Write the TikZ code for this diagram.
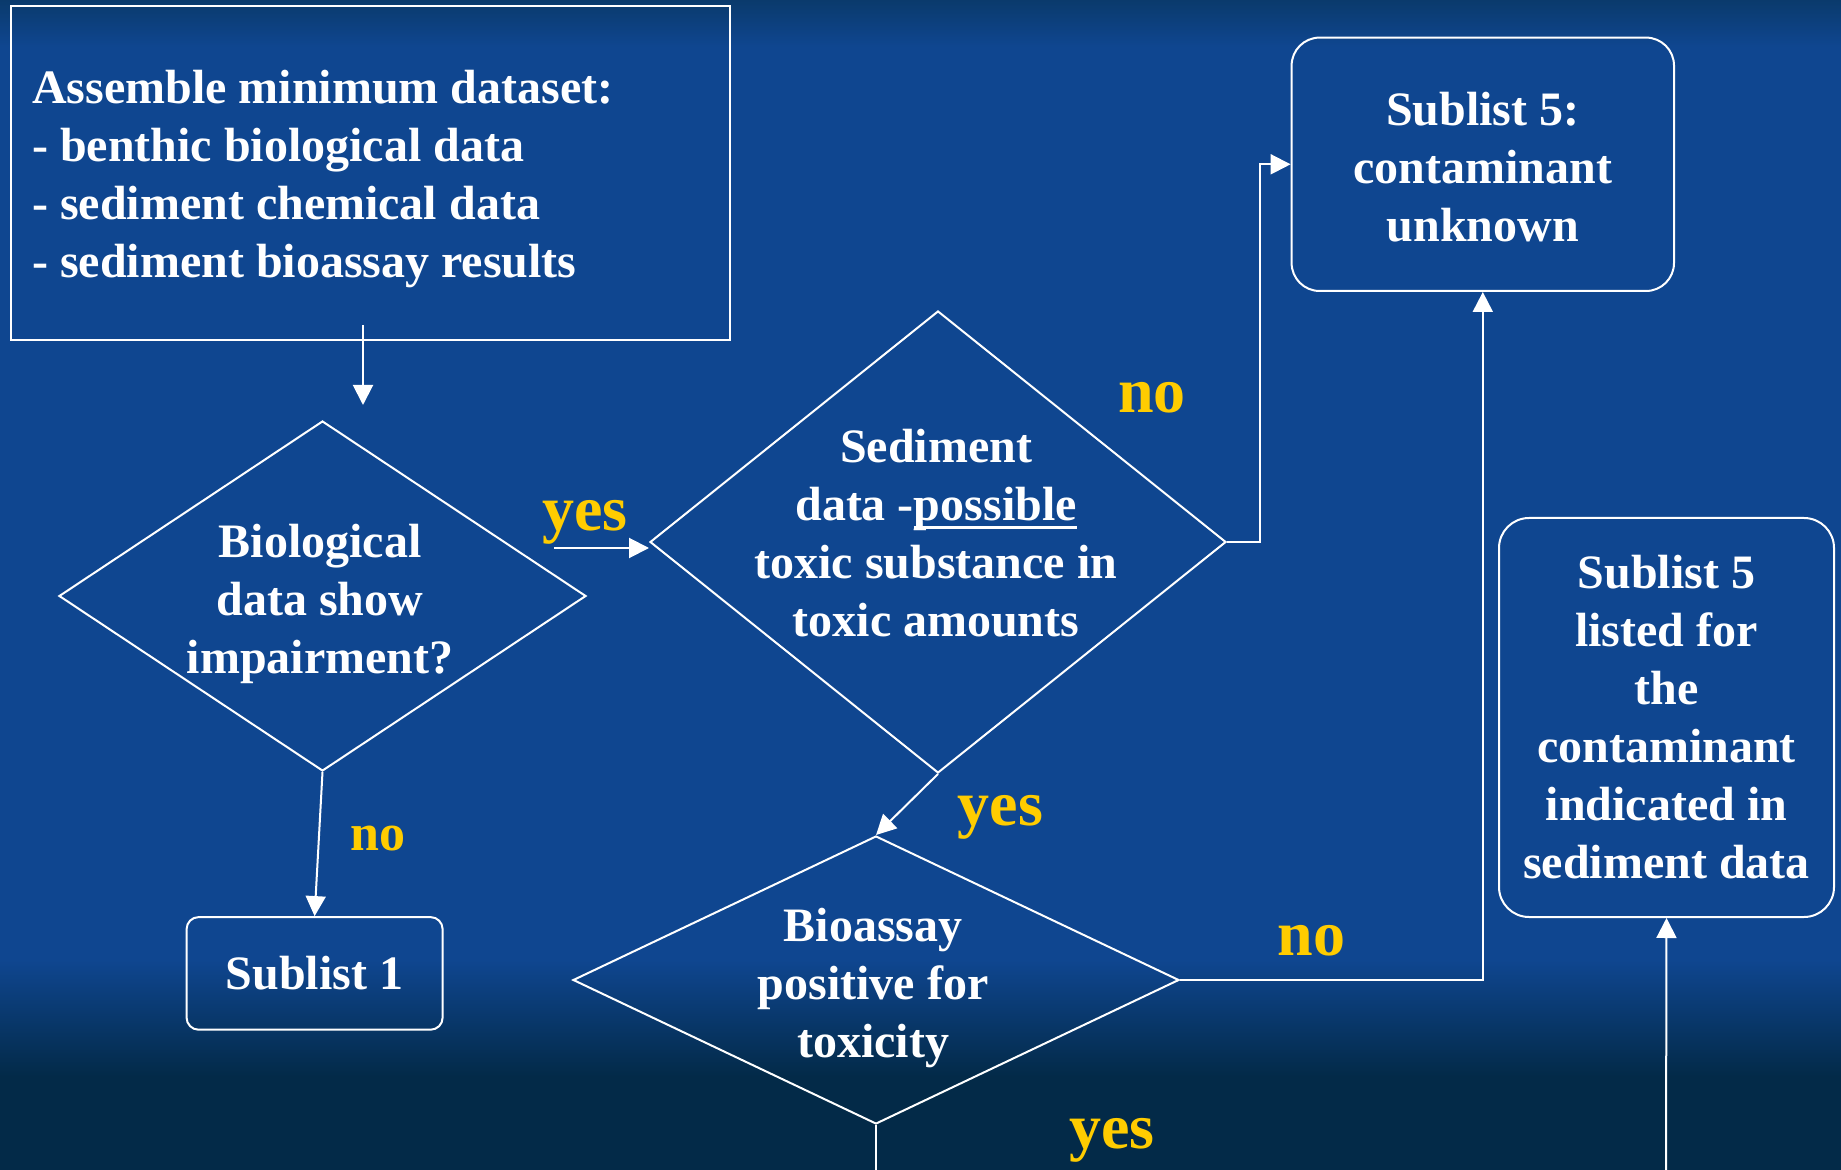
\documentclass[tikz,border=0pt]{standalone}
\usepackage{fontspec}
\setmainfont{Liberation Serif}
\usetikzlibrary{shapes.geometric,arrows.meta}

\definecolor{bgtop}{HTML}{0A3A6C}
\definecolor{bgmid}{HTML}{0F4690}
\definecolor{bgbot}{HTML}{032A48}
\definecolor{replycol}{HTML}{FFCC00}

\pgfdeclareverticalshading{slide}{100bp}{color(0bp)=(bgbot); color(25bp)=(bgbot);
  color(29bp)=(bgbot); color(34bp)=(bgmid); color(73bp)=(bgmid); color(75bp)=(bgtop);
  color(100bp)=(bgtop)}

% thick underline, as on the slide
\newcommand\uword[1]{\setbox0\hbox{#1}\rlap{\rule[-4.5pt]{\wd0}{1.5pt}}\box0}

\tikzset{
  box/.style={draw=white, line width=1pt, text=white, align=center, inner sep=0pt,
    font=\bfseries\fontsize{24}{29}\selectfont},
  ask/.style={shape=diamond, draw=white, line width=1pt, inner sep=0pt},
  words/.style={text=white, align=center, font=\bfseries\fontsize{24}{29}\selectfont},
  reply/.style={text=replycol, font=\bfseries\fontsize{32}{38}\selectfont},
  flow/.style={draw=white, line width=1pt, -{Triangle[length=10pt,width=10pt]}}
}

\begin{document}
\begin{tikzpicture}[x=0.5pt, y=-0.5pt]
  \shade[shading=slide] (0,0) rectangle (1841,1170);
  \useasboundingbox (0,0) rectangle (1841,1170);

  % boxes
  \node (start)[box, minimum width=359.7pt, minimum height=167.3pt]
      at (370.3,173.2) {};
  \node (list)[words, align=flush left, anchor=west] at (25,179)
      {Assemble minimum dataset:\\- benthic biological data\\
      - sediment chemical data\\- sediment bioassay results};
  \node (s1)[box, rounded corners=6pt, minimum width=128pt, minimum height=56.3pt]
      at (314.6,973.4) {Sublist 1};
  \node (s5)[box, rounded corners=14pt, minimum width=191.2pt, minimum height=126.7pt]
      at (1482.8,164.3) {};
  \node (t5)[words] at (1482.8,167) {Sublist 5:\\contaminant\\unknown};
  \node (s5b)[box, rounded corners=15pt, minimum width=167.5pt, minimum height=199.5pt]
      at (1666.5,717.5) {Sublist 5\\listed for\\the\\contaminant\\indicated in\\sediment data};

  % decisions
  \node (d1)[ask, minimum width=263.5pt, minimum height=175pt] at (322.5,596) {};
  \node (d2)[ask, minimum width=288pt, minimum height=231pt] at (938,542) {};
  \node (d3)[ask, minimum width=303pt, minimum height=144pt] at (876,980) {};
  \node (t1)[words] at (320,604) {Biological\\data show\\impairment?};
  \node (t2)[words] at (936,533) {Sediment\\data -\uword{possible}\\toxic substance in\\toxic amounts};
  \node (t3)[words] at (873,988) {Bioassay\\positive for\\toxicity};

  % connectors
  \coordinate (feed) at (363,325);
  \coordinate (feedend) at (363,405);
  \coordinate (yesfrom) at (554,548);
  \coordinate (out3) at (876,1170);
  \coordinate (in5) at (1666,1170);
  \draw[flow] (feed) -- (feedend);
  \draw[flow] (yesfrom) -- (d2.west |- yesfrom);
  \draw[flow] (d1.south) -- (s1.north);
  \draw[flow] (d2.east) -- ++(32.6,0) |- (s5.west);
  \draw[flow] (d2.south) -- (d3.north);
  \draw[flow] (d3.east) -| (s5.south);
  \draw[white, line width=1pt] (d3.south) -- (out3);
  \draw[flow] (in5) -- (s5b.south);

  % answers
  \node (yes1)[reply] at (584.7,522) {yes};
  \node (no1)[reply] at (1151.8,398) {no};
  \node (no2)[reply, font=\bfseries\fontsize{26}{30}\selectfont] at (378,838) {no};
  \node (yes2)[reply] at (1000.3,817) {yes};
  \node (no3)[reply] at (1311.5,941) {no};
  \node (yes3)[reply] at (1111.9,1140) {yes};
\end{tikzpicture}
\end{document}
